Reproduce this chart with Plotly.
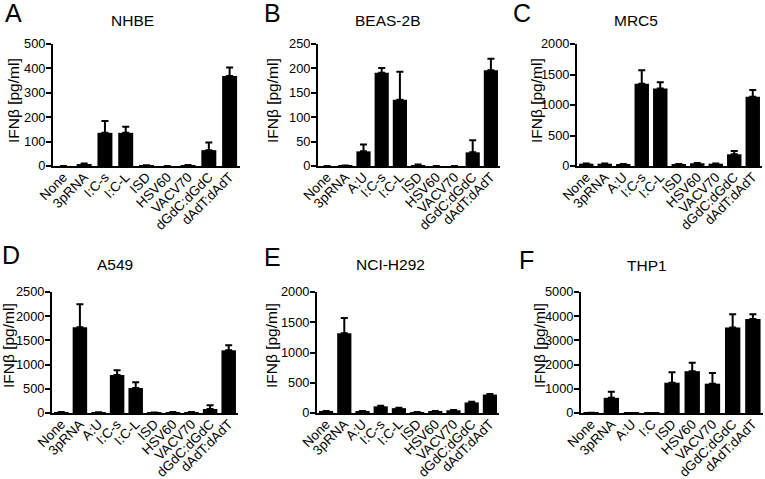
import plotly.graph_objects as go

FONT = "Liberation Sans, Arial, Helvetica, sans-serif"

# ---------------- data ----------------
cats_A = ["None", "3pRNA", "I:C-s", "I:C-L", "ISD", "HSV60", "VACV70", "dGdC:dGdC", "dAdT:dAdT"]
vals_A = [0, 7, 136, 136, 2, 0, 3, 65, 369]
err_A = [0, 3, 48, 25, 1, 0, 1, 31, 35]

cats_B = ["None", "3pRNA", "A:U", "I:C-s", "I:C-L", "ISD", "HSV60", "VACV70", "dGdC:dGdC", "dAdT:dAdT"]
vals_B = [0, 1, 30, 191, 136, 2, 0, 0, 28, 196]
err_B = [0, 0, 14, 10, 57, 1, 0, 0, 25, 24]

cats_C = ["None", "3pRNA", "A:U", "I:C-s", "I:C-L", "ISD", "HSV60", "VACV70", "dGdC:dGdC", "dAdT:dAdT"]
vals_C = [38, 38, 28, 1349, 1271, 30, 45, 38, 192, 1137]
err_C = [5, 5, 3, 220, 104, 4, 6, 5, 55, 110]

cats_D = ["None", "3pRNA", "A:U", "I:C-s", "I:C-L", "ISD", "HSV60", "VACV70", "dGdC:dGdC", "dAdT:dAdT"]
vals_D = [20, 1770, 15, 785, 517, 10, 20, 20, 83, 1295]
err_D = [3, 475, 2, 97, 117, 2, 3, 3, 75, 103]

cats_E = ["None", "3pRNA", "A:U", "I:C-s", "I:C-L", "ISD", "HSV60", "VACV70", "dGdC:dGdC", "dAdT:dAdT"]
vals_E = [30, 1317, 30, 110, 80, 15, 30, 45, 175, 305]
err_E = [5, 255, 5, 10, 8, 3, 5, 5, 10, 8]

cats_F = ["None", "3pRNA", "A:U", "I:C", "ISD", "HSV60", "VACV70", "dGdC:dGdC", "dAdT:dAdT"]
vals_F = [10, 627, 5, 5, 1253, 1727, 1212, 3538, 3886]
err_F = [0, 250, 0, 0, 432, 348, 445, 543, 195]

titles = ["NHBE", "BEAS-2B", "MRC5", "A549", "NCI-H292", "THP1"]
letters = ["A", "B", "C", "D", "E", "F"]
y_max = [500, 250, 2000, 2500, 2000, 5000]
y_dtick = [100, 50, 500, 500, 500, 1000]
# ---------------------------------------

W, H = 765, 479
panels = [
    # (cats, vals, errs, x0, x1, y0, y1, bar width,
    #  letter (x, y), title (x, y), ytitle (x, y))
    (cats_A, vals_A, err_A, 53, 240, 44, 166, 0.72, (3, 13), (132, 20), (14, 101)),
    (cats_B, vals_B, err_B, 318, 500, 44, 166, 0.78, (262, 13), (387, 20), (273, 101)),
    (cats_C, vals_C, err_C, 577, 762, 44, 166, 0.78, (511, 13), (636, 20), (537, 101)),
    (cats_D, vals_D, err_D, 52, 238, 292, 413, 0.78, (0, 255), (115, 264), (8, 346)),
    (cats_E, vals_E, err_E, 317, 499, 292, 413, 0.78, (262, 257), (391, 264), (271, 346)),
    (cats_F, vals_F, err_F, 581, 763, 292, 413, 0.76, (517, 260), (647, 265), (539, 346)),
]

fig = go.Figure()
annotations = []
layout_axes = {}
for i, (cats, vals, errs, x0, x1, y0, y1, bw, lpos, tpos, ypos) in enumerate(panels):
    n = i + 1
    xa = "x" if n == 1 else f"x{n}"
    ya = "y" if n == 1 else f"y{n}"
    fig.add_trace(go.Bar(
        x=cats, y=vals, xaxis=xa, yaxis=ya, width=bw,
        marker=dict(color="black", line=dict(width=0)),
        error_y=dict(type="data", symmetric=False, array=errs,
                     arrayminus=[0] * len(errs), color="black",
                     thickness=2, width=3.5),
        showlegend=False,
    ))
    xkey = "xaxis" if n == 1 else f"xaxis{n}"
    ykey = "yaxis" if n == 1 else f"yaxis{n}"
    layout_axes[xkey] = dict(
        domain=[x0 / W, x1 / W], anchor=ya, type="category",
        range=[-0.5, len(cats) - 0.5], showline=True, linewidth=2,
        linecolor="black", ticks="", tickangle=-45, showgrid=False,
        tickfont=dict(family=FONT, size=13.5, color="black"),
        ticklabelstandoff=-4,
        automargin=False, fixedrange=True,
    )
    layout_axes[ykey] = dict(
        domain=[1 - y1 / H, 1 - y0 / H], anchor=xa,
        range=[0, y_max[i]], dtick=y_dtick[i], tick0=0,
        showline=True, linewidth=2, linecolor="black",
        ticks="outside", ticklen=5, tickwidth=2, tickcolor="black",
        showgrid=False, zeroline=False,
        tickfont=dict(family=FONT, size=12.8, color="black"),
        ticklabelstandoff=-2,
        automargin=False, fixedrange=True,
    )
    # panel title
    annotations.append(dict(
        text=titles[i], x=tpos[0] / W, y=1 - tpos[1] / H,
        xref="paper", yref="paper", xanchor="center", yanchor="middle",
        showarrow=False, font=dict(family=FONT, size=15.5, color="black")))
    # panel letter
    annotations.append(dict(
        text=letters[i], x=lpos[0] / W, y=1 - lpos[1] / H,
        xref="paper", yref="paper", xanchor="left", yanchor="middle",
        showarrow=False, font=dict(family=FONT, size=25, color="black")))
    # y axis title
    annotations.append(dict(
        text="IFNβ [pg/ml]", x=ypos[0] / W, y=1 - ypos[1] / H,
        xref="paper", yref="paper", xanchor="center", yanchor="middle",
        textangle=-90, showarrow=False,
        font=dict(family=FONT, size=15.5, color="black")))

fig.update_layout(
    width=W, height=H,
    margin=dict(l=0, r=0, t=0, b=0, autoexpand=False),
    paper_bgcolor="white", plot_bgcolor="white",
    annotations=annotations,
    bargap=0.2,
    **layout_axes,
)

fig.write_html(
    "out.html",
    config={"displayModeBar": False},
    post_script="document.body.style.margin='0';document.body.style.overflow='hidden';",
)
